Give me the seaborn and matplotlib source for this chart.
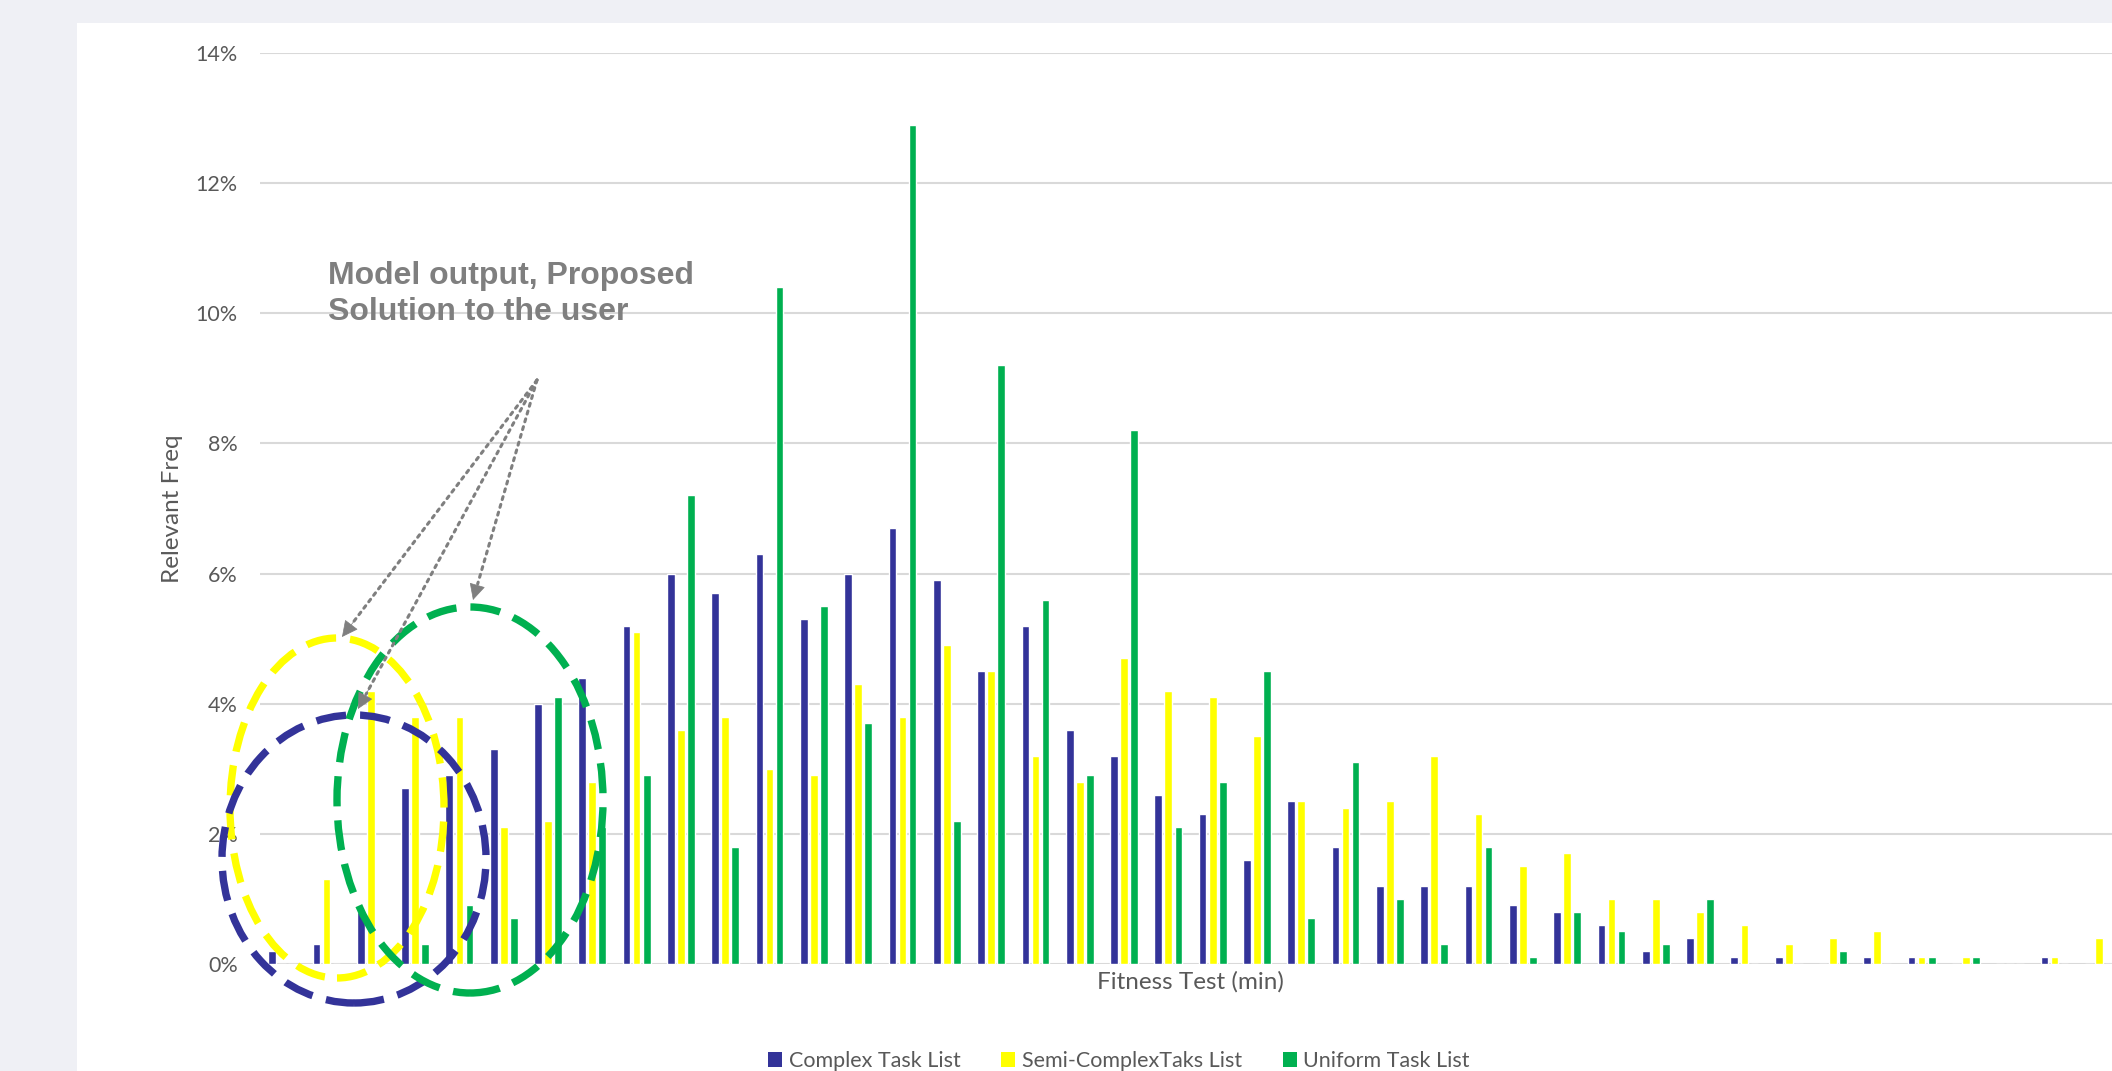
import matplotlib
matplotlib.use("Agg")
import matplotlib.pyplot as plt
import seaborn as sns
import pandas as pd
from matplotlib.patches import Ellipse, Rectangle, Patch, FancyArrowPatch
from matplotlib.ticker import FuncFormatter

# relative frequency (%) per fitness-test bin
complex_list = [0.2, 0.3, 0.8, 2.7, 2.9, 3.3, 4.0, 4.4, 5.2, 6.0, 5.7, 6.3, 5.3, 6.0,
                6.7, 5.9, 4.5, 5.2, 3.6, 3.2, 2.6, 2.3, 1.6, 2.5, 1.8, 1.2, 1.2, 1.2,
                0.9, 0.8, 0.6, 0.2, 0.4, 0.1, 0.1, 0.0, 0.1, 0.1, 0.0, 0.0, 0.1, 0.0]
semi_complex_list = [0.0, 1.3, 4.2, 3.8, 3.8, 2.1, 2.2, 2.8, 5.1, 3.6, 3.8, 3.0, 2.9, 4.3,
                     3.8, 4.9, 4.5, 3.2, 2.8, 4.7, 4.2, 4.1, 3.5, 2.5, 2.4, 2.5, 3.2, 2.3,
                     1.5, 1.7, 1.0, 1.0, 0.8, 0.6, 0.3, 0.4, 0.5, 0.1, 0.1, 0.0, 0.1, 0.4]
uniform_list = [0.0, 0.0, 0.0, 0.3, 0.9, 0.7, 4.1, 2.1, 2.9, 7.2, 1.8, 10.4, 5.5, 3.7,
                12.9, 2.2, 9.2, 5.6, 2.9, 8.2, 2.1, 2.8, 4.5, 0.7, 3.1, 1.0, 0.3, 1.8,
                0.1, 0.8, 0.5, 0.3, 1.0, 0.0, 0.0, 0.2, 0.0, 0.1, 0.1, 0.0, 0.0, 0.0]
bins = [str(i + 1) for i in range(len(complex_list))]
series_names = ["Complex Task List", "Semi-ComplexTaks List", "Uniform Task List"]
series_colors = ["#333399", "#FFFF00", "#00B050"]

df = pd.DataFrame({
    "bin": bins * 3,
    "freq": complex_list + semi_complex_list + uniform_list,
    "series": [s for s in series_names for _ in bins],
})

sns.set_style("white")
plt.rcParams["font.family"] = ["Lato", "DejaVu Sans"]

W, H = 2112, 1071
fig = plt.figure(figsize=(W / 100, H / 100), dpi=100)
fig.patch.set_facecolor("#eff0f5")
fig.add_artist(Rectangle((77 / W, 0), 1, (H - 23) / H, transform=fig.transFigure,
                         facecolor="white", edgecolor="none", zorder=-5))


def fx(x):
    return x / W


def fy(y):
    return (H - y) / H


ax = fig.add_axes([fx(260), fy(964), (2121 - 260) / W, (964 - 53) / H])
ax.set_facecolor("white")

sns.barplot(data=df, x="bin", y="freq", hue="series", hue_order=series_names,
            palette=series_colors, width=0.68, gap=0.23, ax=ax, legend=False,
            saturation=1, errorbar=None)

ax.set_ylim(0, 14)
ax.set_xlim(-0.5, len(bins) - 0.5)
ax.set_yticks(range(0, 15, 2))
ax.yaxis.set_major_formatter(FuncFormatter(lambda v, p: f"{v:.0f}%"))
ax.grid(axis="y", color="#d9d9d9", linewidth=1.5)
ax.set_axisbelow(True)
for s in ax.spines.values():
    s.set_visible(False)
ax.tick_params(axis="y", length=0, pad=16, labelsize=15.5, labelcolor="#595959")
ax.tick_params(axis="x", length=0, labelbottom=False)
ax.set_ylabel("Relevant Freq", fontsize=17.5, color="#595959", labelpad=9)
ax.set_xlabel("Fitness Test (min)", fontsize=17.5, color="#595959", labelpad=5)

handles = [Patch(facecolor=c, edgecolor="none") for c in series_colors]
leg = fig.legend(handles, series_names, loc="center", bbox_to_anchor=(fx(1119), fy(1061)),
                 ncol=3, frameon=False, fontsize=15.5, handlelength=0.65, handleheight=0.65,
                 columnspacing=1.9, handletextpad=0.3)
for t in leg.get_texts():
    t.set_color("#595959")

# dashed circles marking the proposed solutions
circles = [
    ("#FFFF00", 337, 808, 107, 170),
    ("#333399", 354, 859, 132, 144),
    ("#00B050", 470, 800, 133, 193),
]
for col, cx, cy, rx, ry in circles:
    fig.add_artist(Ellipse((fx(cx), fy(cy)), 2 * rx / W, 2 * ry / H,
                           transform=fig.transFigure, fill=False, edgecolor=col,
                           linewidth=5.3, linestyle=(0, (4.1, 1.9)), zorder=5))

# annotation text and dotted arrows
fig.text(fx(328), fy(261), "Model output, Proposed\nSolution to the user",
         family=["Liberation Sans", "DejaVu Sans"], fontweight="bold", fontsize=23,
         color="#7f7f7f", ha="left", va="top", linespacing=1.27, zorder=6)

sx, sy = 537, 380
for tx, ty in [(342, 637), (358, 709), (473, 600)]:
    fig.add_artist(FancyArrowPatch((fx(sx), fy(sy)), (fx(tx), fy(ty)),
                                   transform=fig.transFigure, arrowstyle="-",
                                   color="#7f7f7f", linewidth=2.2, linestyle=":",
                                   shrinkA=0, shrinkB=12, zorder=6))
    hx, hy = sx + (tx - sx) * 0.93, sy + (ty - sy) * 0.93
    fig.add_artist(FancyArrowPatch((fx(hx), fy(hy)), (fx(tx), fy(ty)),
                                   transform=fig.transFigure, arrowstyle="-|>",
                                   mutation_scale=26, color="#7f7f7f", linewidth=0.5,
                                   shrinkA=0, shrinkB=0, zorder=6))

fig.savefig("out.png", dpi=100, facecolor=fig.get_facecolor())
